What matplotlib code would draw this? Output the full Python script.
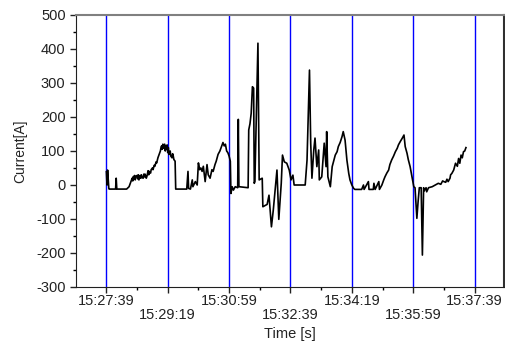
import numpy as np
import matplotlib
matplotlib.use("Agg")
import matplotlib.pyplot as plt
from matplotlib.ticker import MultipleLocator

plt.rcParams['font.family'] = ['Liberation Sans', 'DejaVu Sans']
plt.rcParams['axes.unicode_minus'] = False

# seconds after 15:27:39 and current readings
t = [0, 1, 2, 4, 4.5, 15, 16, 17, 33, 37, 39, 40, 42, 43, 44, 45, 46, 47, 48,
     50, 51, 52, 53, 55, 56, 57, 58, 60, 61, 62, 63, 65, 66, 68, 69, 70, 72,
     73, 75, 76, 78, 79, 81, 82, 84, 86, 88, 89, 90, 91, 92, 93, 94, 95, 96,
     97, 98, 99, 100, 101, 102, 104, 105, 107, 108, 109, 110, 112, 113,
     131, 133, 134, 137, 140, 141, 145, 148, 150, 152, 154, 156, 158, 161, 164,
     166, 169, 172, 174, 177, 179, 182, 185, 187, 190, 192, 194, 196, 198, 200,
     202, 203, 205, 207, 210,
     214, 215, 216, 231, 232, 234, 236, 238, 240, 241, 242, 247, 249, 254, 255,
     262, 265, 269, 272, 278, 281, 285, 287, 290, 294, 298, 301, 304, 306, 324,
     327, 331, 333, 335, 338, 340, 343, 346, 347, 351, 355, 358, 359, 361, 365,
     368, 373, 376, 378, 381, 384, 386, 389, 392, 395, 397, 400, 403, 405, 416,
     419, 420, 427, 428, 435, 436, 438, 444, 445, 449, 452, 454, 457, 460, 462,
     465, 468, 471, 474, 476, 479, 482, 485, 487, 490, 492, 495, 498, 501, 503,
     506, 508, 510, 513, 515, 517, 518, 521, 522, 525, 531, 536, 541, 545, 548,
     550, 553, 555, 557, 560, 561, 563, 566, 569, 572, 574, 576, 578, 580, 582,
     584, 586]
current = [39, 0, 44, -10, -12, -12, 20, -12, -12, -5, 5, 10, 20, 12, 25, 18,
           28, 15, 25, 28, 18, 30, 15, 28, 20, 30, 22, 20, 32, 24, 32, 20, 25,
           42, 30, 40, 35, 45, 50, 45, 58, 55, 68, 65, 80, 90, 100, 110, 115,
           105, 120, 108, 118, 120, 100, 115, 105, 118, 95, 110, 90, 100, 85, 80,
           92, 85, 75, 70, -12,
           -12, 40, -10, -12, 15, -5, 10, 0, 65, 45, 50, 40, 55, 10, 60, 30, 20,
           45, 40, 60, 70, 90, 100, 110, 125, 115, 120, 100, 95, 85, 70, -25,
           -5, -15, -5,
           -8, 193, -5, -8, 162, 180, 211, 289, 285, 5, 10, 417, 15, 20, -64,
           -57, -30, -123, -74, 44, -101, 5, 88, 68, 64, 44, 15, 29, 0, 0, 73,
           338, 123, 20, 103, 138, 54, 103, 15, 24, 123, 54, 157, 24, -5, 54, 88,
           98, 113, 125, 142, 157, 132, 73, 34, 15, 0, -10, -13, -13, 0, -13, 10,
           -13, -13, 5, -13, 10, -13, 0, 15, 24, 35, 44, 60, 74, 85, 98, 108, 118,
           128, 137, 147, 113, 93, 75, 54, 24, -5, -8, -98, -49, -8, -8, -206,
           -8, -17, -8, -20, -8, -5, 0, 5, 2, 12, 10, 8, 17, 10, 20, 30, 34, 44,
           64, 55, 78, 64, 88, 80, 98, 100, 110]

tick_secs = [0, 100, 200, 300, 400, 500, 600]
tick_labels = ["15:27:39", "15:29:19", "15:30:59", "15:32:39",
               "15:34:19", "15:35:59", "15:37:39"]

fig = plt.figure(figsize=(5.06, 3.41), dpi=100)
ax = fig.add_axes([76/506, 1 - 287/341, (504 - 76)/506, (287 - 15)/341])

for s in tick_secs:
    ax.axvline(s, color='#0000ff', lw=1.0, zorder=1)
ax.plot(t, current, color='black', lw=1.2, zorder=2)

ax.set_xlim(-49.5, 648)
ax.set_ylim(-300, 500)
ax.yaxis.set_major_locator(MultipleLocator(100))
ax.yaxis.set_minor_locator(MultipleLocator(50))
ax.set_xticks(tick_secs)
ax.set_xticklabels(tick_labels)
ax.xaxis.set_minor_locator(MultipleLocator(50))
for i, lab in enumerate(ax.get_xticklabels()):
    lab.set_y(0 if i % 2 == 0 else -0.05)

ax.tick_params(which='major', direction='out', length=4, width=1,
               labelsize=10.5, colors='#222222')
ax.tick_params(which='minor', direction='out', length=2.5, width=1)
ax.tick_params(axis='x', labelsize=10.5, pad=1)

for side in ['left', 'bottom']:
    ax.spines[side].set_color('#202020')
ax.spines['top'].set_color('#808080')
ax.spines['top'].set_linewidth(1.5)
ax.spines['right'].set_color('#303030')
ax.spines['right'].set_linewidth(1.5)

ax.set_ylabel("Current[A]", fontsize=10, color='#222222', labelpad=6)
ax.set_xlabel("Time [s]", fontsize=10.5, color='#222222', labelpad=4)

fig.savefig("out.png", dpi=100)
